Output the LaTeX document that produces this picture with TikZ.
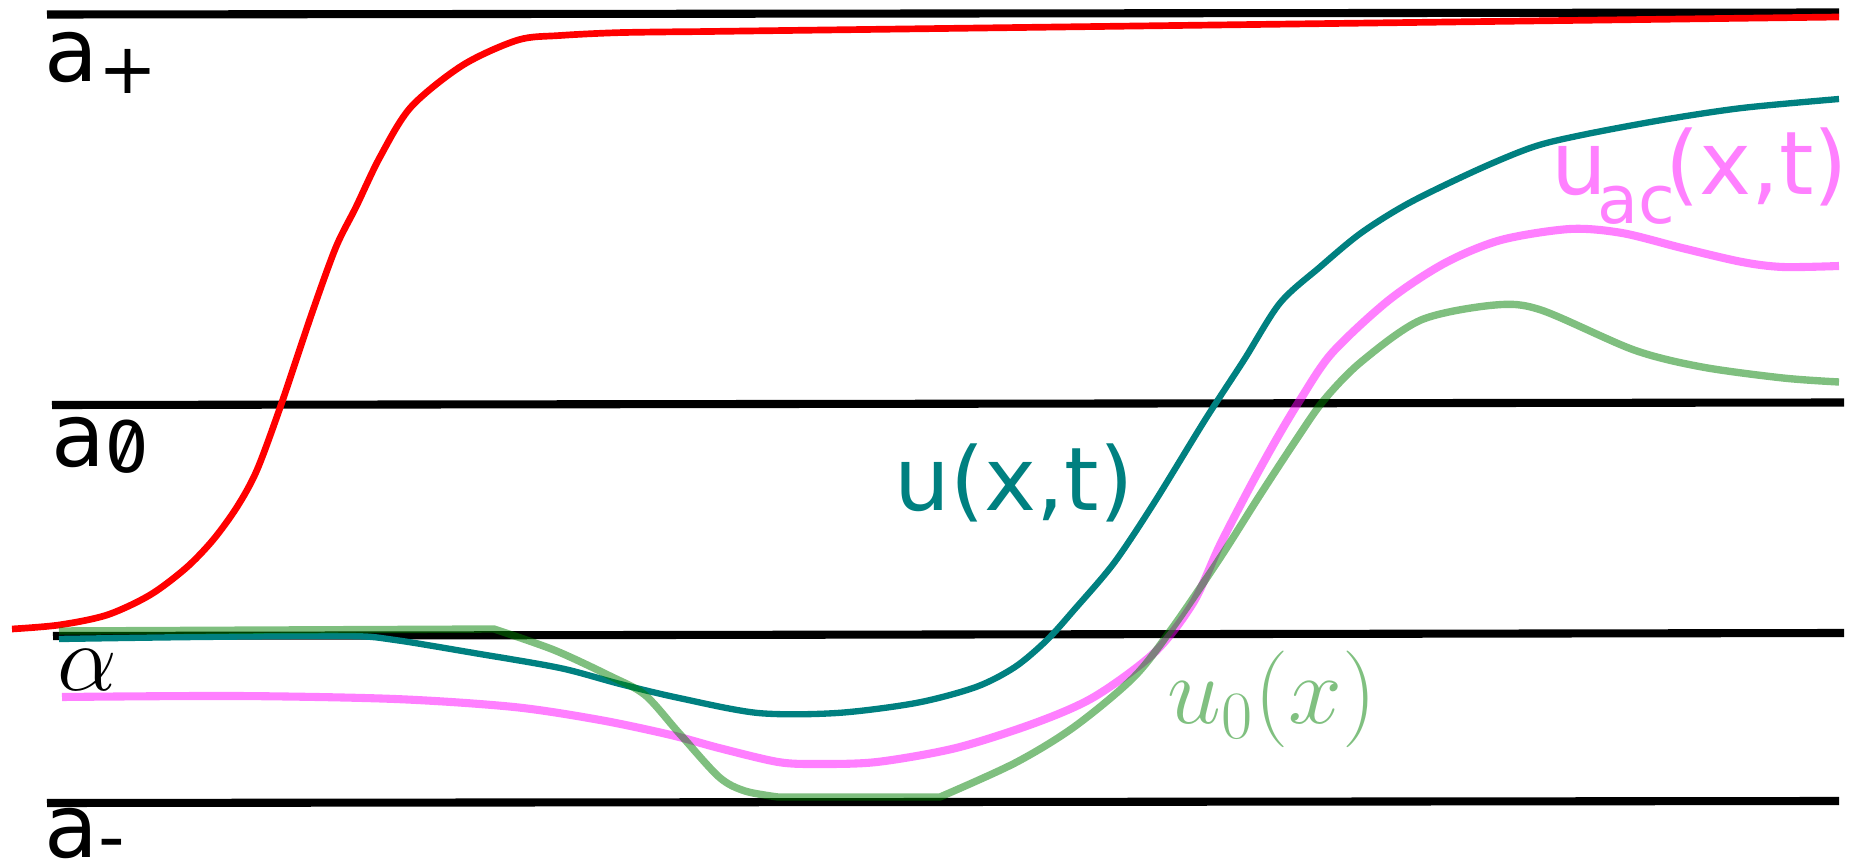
\documentclass[tikz,border=0pt]{standalone}
\usepackage{fix-cm}
\usepackage[no-math]{fontspec}
\setmainfont{DejaVu Sans}
\newfontfamily\zerofont{Fira Sans}[Numbers=SlashedZero]
\usepackage{xcolor}

\definecolor{ured}{RGB}{255,0,0}
\definecolor{uteal}{RGB}{0,128,128}
\definecolor{uacpink}{RGB}{255,0,255}
\definecolor{uzerogreen}{RGB}{0,128,0}

\begin{document}
\begin{tikzpicture}[
  x=0.01cm, y=-0.01cm,
  level/.style={line width=2.3pt, black},
  curve/.style={line join=round},
  redline/.style={curve, line width=1.9pt, ured},
  uline/.style={curve, line width=1.8pt, uteal},
  uacline/.style={curve, line width=2.3pt, uacpink, draw opacity=0.5},
  uzeroline/.style={curve, line width=2.1pt, uzerogreen, draw opacity=0.5},
  lbl/.style={inner sep=0pt, anchor=base west, font=\fontsize{25pt}{30pt}\selectfont},
]
\useasboundingbox (0,0) rectangle (1850,867);

% ---- Levels a+, a0, alpha, a- -----------------------------------------------
\foreach \xa/\ya/\xb/\yb in {47/14.5/1839/12.5, 52/405/1844/402.5,
                             53/636/1844/633, 47/803/1839/801}{
  \draw[level] (\xa,\ya) -- (\xb,\yb);
}

\node[lbl] (aplus) at (44,82)
  {a\raisebox{-0.11cm}{\fontsize{20pt}{20pt}\selectfont +}};
\node[lbl] (azero) at (51,467)
  {a\raisebox{-0.05cm}{\zerofont\fontsize{22pt}{22pt}\selectfont 0}};
\node[lbl, font=\fontsize{27pt}{30pt}\selectfont] (alpha) at (57,691) {$\alpha$};
\node[lbl] (aminus) at (44,857)
  {a\raisebox{-0.05cm}{\fontsize{21pt}{21pt}\selectfont -}};

% ---- Curves -----------------------------------------------------------------
% red front
\draw[redline] plot[smooth, tension=0.5] coordinates {
  (12,629) (59,625) (107,615) (150,595) (186,568) (213,540) (237,507)
  (257,470) (281,405) (312,313) (336,247) (356,207) (380,157) (411,107)
  (463,65) (518,40) (560,35.5) (620,32.6) (700,31.6)} -- (1839,17);

% u(x,t)
\draw[uline] plot[smooth, tension=0.5] coordinates {
  (59,639) (198,637) (348,636) (395,640) (474,653) (560,668) (620,684)
  (679,698) (758,713) (837,713) (916,703) (976,687) (1015,667) (1047,640)
  (1074,610) (1114,563) (1154,503) (1205,420) (1244,360) (1280,303)
  (1320,267) (1361,233) (1409,203) (1477,170) (1533,147) (1582,135)
  (1662,120) (1742,108) (1839,99)};

% u_ac(x,t)
\draw[uacline] plot[smooth, tension=0.5] coordinates {
  (62,697) (237,696) (395,699) (514,707) (600,720) (671,735) (719,748)
  (778,762) (817,764) (877,762) (956,748) (1035,723) (1094,697) (1154,653)
  (1193,603) (1220,545) (1250,487) (1276,440) (1300,400) (1332,353)
  (1389,300) (1445,263) (1501,240) (1570,229) (1622,233) (1682,248)
  (1742,262) (1783,267) (1839,266)};

% u_0(x)
\draw[uzeroline] (59,631) -- (494,629)
  -- plot[smooth, tension=0.5] coordinates {
  (494,629) (554,650) (610,676) (645,695) (679,733) (719,777) (745,791) (778,797)}
  -- (940,797)
  -- plot[smooth, tension=0.5] coordinates {
  (940,797) (1015,763) (1074,727) (1134,677) (1173,627) (1220,558)
  (1260,495) (1296,440) (1324,400) (1361,362) (1421,320) (1495,305)
  (1541,310) (1634,350) (1702,367) (1783,378) (1839,382)};

% ---- Curve labels -----------------------------------------------------------
\node[lbl, text=uteal] (ulbl) at (894,511) {u(x,t)};
\node[lbl, text=uacpink!50] (uaclbl) at (1551,195)
  {u\kern-0.1cm\raisebox{-0.28cm}{\fontsize{19pt}{19pt}\selectfont ac}\kern-0.1cm(x,t)};
\node[lbl, text=uzerogreen!50, font=\fontsize{27.5pt}{30pt}\selectfont] (uzerolbl)
  at (1167,724) {$u_0(x)$};

\end{tikzpicture}
\end{document}
